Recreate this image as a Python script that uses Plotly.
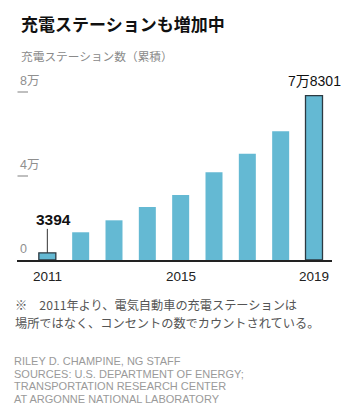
import plotly.graph_objects as go

# ---- data ----
years = [2011, 2012, 2013, 2014, 2015, 2016, 2017, 2018, 2019]
stations = [3394, 13200, 18900, 25200, 31000, 41800, 50600, 61300, 78301]
highlight = [True, False, False, False, False, False, False, False, True]
x_tick_vals = [2011, 2015, 2019]
x_tick_text = ["2011", "2015", "2019"]
y_tick_vals = [0, 40000, 80000]
y_tick_text = ["0", "4万", "8万"]
first_label = "3394"
last_label = "7万8301"

title = "充電ステーションも増加中"
subtitle = "充電ステーション数（累積）"
note_lines = ["※　2011年より、電気自動車の充電ステーションは",
              "場所ではなく、コンセントの数でカウントされている。"]
credit_lines = ["RILEY D. CHAMPINE, NG STAFF",
                "SOURCES: U.S. DEPARTMENT OF ENERGY;",
                "TRANSPORTATION RESEARCH CENTER",
                "AT ARGONNE NATIONAL LABORATORY"]

# ---- style ----
W, H = 350, 417
ML, MR, MT, MB = 17, 18, 80, 157
PW = W - ML - MR
PH = H - MT - MB
Y_MAX = 80000 * PH / 168
UNITS_PER_PX = Y_MAX / PH
BAR = "#64B9D3"
EDGE = "#2c3a42"
JP = "Noto Sans CJK JP"
LAT = "Liberation Sans, Noto Sans CJK JP"


def px(x):
    return (x - ML) / PW


def py(y):
    return (H - MB - y) / PH


fig = go.Figure()
fig.add_trace(go.Bar(
    x=years, y=stations, width=0.51,
    marker=dict(color=BAR,
                line=dict(color=[EDGE if h else BAR for h in highlight],
                          width=[1.3 if h else 0 for h in highlight])),
    hoverinfo="skip",
))

ann = []
# title / subtitle
ann.append(dict(text="<b>" + title + "</b>", x=px(19), y=py(9), xref="paper", yref="paper",
                xanchor="left", yanchor="top", showarrow=False,
                font=dict(family=JP, size=17, color="#111")))
ann.append(dict(text=subtitle, x=px(19), y=py(45), xref="paper", yref="paper",
                xanchor="left", yanchor="top", showarrow=False,
                font=dict(family=JP, size=11.7, color="#8a8a8a")))
# y labels
for v, t in zip(y_tick_vals, y_tick_text):
    ann.append(dict(text=t, x=px(18), y=v, xref="paper", yref="y",
                    xanchor="left", yanchor="bottom", yshift=2, showarrow=False,
                    font=dict(family=LAT, size=12.5, color="#8f8f8f")))
# x labels
for v, t in zip(x_tick_vals, x_tick_text):
    ann.append(dict(text=t, x=v, y=py(267), xref="x", yref="paper",
                    xanchor="center", yanchor="top", showarrow=False,
                    font=dict(family=LAT, size=13.5, color="#222")))
# value labels
lead_len = 24  # leader line length in px
ann.append(dict(text="<b>" + first_label + "</b>", x=years[0], y=stations[0], xref="x", yref="y",
                xanchor="center", yanchor="bottom", xshift=6, yshift=lead_len - 1, showarrow=False,
                font=dict(family=LAT, size=15.5, color="#111")))
ann.append(dict(text=last_label, x=years[-1], y=stations[-1], xref="x", yref="y",
                xanchor="center", yanchor="bottom", yshift=5, showarrow=False,
                font=dict(family=LAT, size=14, color="#111")))
# footnote
for i, t in enumerate(note_lines):
    ann.append(dict(text=t, x=px(13), y=py(294 + 18 * i), xref="paper", yref="paper",
                    xanchor="left", yanchor="top", showarrow=False,
                    font=dict(family=JP, size=12.2, color="#555")))
# credits
for i, t in enumerate(credit_lines):
    ann.append(dict(text=t, x=px(12), y=py(353 + 12.5 * i), xref="paper", yref="paper",
                    xanchor="left", yanchor="top", showarrow=False,
                    font=dict(family=LAT, size=11, color="#9a9a9a")))

shapes = []
for v in y_tick_vals[1:]:
    shapes.append(dict(type="line", xref="paper", yref="y", x0=px(17.5), x1=px(28),
                       y0=v, y1=v, line=dict(color="#aaa", width=1.5)))
# leader line for the first value label
shapes.append(dict(type="line", xref="x", yref="y", x0=years[0], x1=years[0],
                   y0=stations[0], y1=stations[0] + lead_len * UNITS_PER_PX,
                   line=dict(color="#333", width=1)))

fig.update_layout(
    width=W, height=H,
    margin=dict(l=ML, r=MR, t=MT, b=MB, pad=0),
    paper_bgcolor="white", plot_bgcolor="white",
    showlegend=False,
    xaxis=dict(range=[2010.09, 2019.54], showgrid=False, zeroline=False,
               showticklabels=False, ticks="", showline=True,
               linecolor="#222", linewidth=2, fixedrange=True),
    yaxis=dict(range=[0, Y_MAX], showgrid=False, zeroline=False,
               showticklabels=False, ticks="", fixedrange=True),
    annotations=ann, shapes=shapes,
)

fig.write_html("out.html", config={"displayModeBar": False})
